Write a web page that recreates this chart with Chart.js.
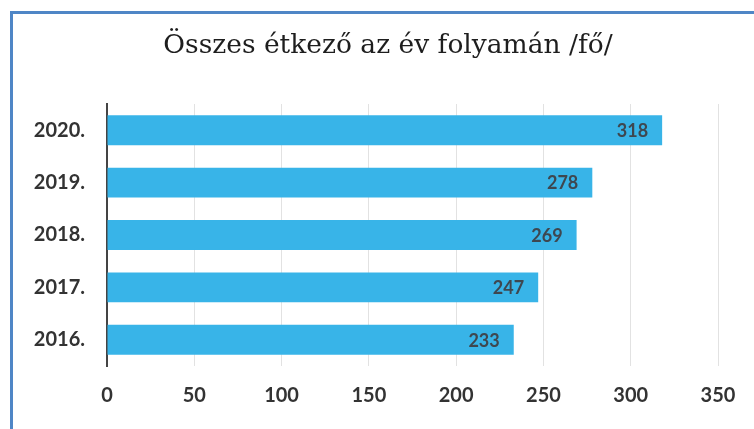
<!DOCTYPE html>
<html>
<head>
  <meta charset="UTF-8">
  <title>Összes étkező</title>
  <script src="https://cdn.jsdelivr.net/npm/chart.js@4"></script>
  <style>
    body { margin: 0; background: #fff; }
    #wrap { position: relative; width: 754px; height: 429px; }
    #frame { position: absolute; left: 10px; top: 11px; right: 0; bottom: 0;
             border-top: 3px solid #4f86c6; border-left: 3px solid #4f86c6; pointer-events: none; }
  </style>
  <script>
    // adatok
    var years = ["2020.", "2019.", "2018.", "2017.", "2016."];
    var eaters = [318, 278, 269, 247, 233];
    var xTicks = [0, 50, 100, 150, 200, 250, 300, 350];
    var chartTitle = "Összes étkező az év folyamán /fő/";

    // számok a sávok végén + cím (a cím nem a plot fölé középre kerül, hanem kicsit jobbra)
    var barLabels = {
      id: "barLabels",
      afterDatasetsDraw: function(chart) {
        var ctx = chart.ctx;
        ctx.save();
        ctx.font = "bold 18px Lato";
        ctx.fillStyle = "#3e4750";
        ctx.textAlign = "right";
        ctx.textBaseline = "middle";
        chart.getDatasetMeta(0).data.forEach(function(bar, i) {
          ctx.fillText(eaters[i], bar.x - 14, bar.y + 1);
        });
        ctx.font = "26.5px 'DejaVu Serif'";
        ctx.fillStyle = "#1e1e1e";
        ctx.textAlign = "center";
        ctx.fillText(chartTitle, 388, 46);
        ctx.restore();
      }
    };

    function init() {
      new Chart(document.getElementById("myChart"), {
        type: "bar",
        data: {
          labels: years,
          datasets: [{
            data: eaters,
            backgroundColor: "#38b4e8",
            categoryPercentage: 1,
            barPercentage: 0.57
          }]
        },
        options: {
          indexAxis: "y",
          responsive: false,
          animation: false,
          layout: { padding: { left: 0, right: 36, top: 104, bottom: 3 } },
          plugins: {
            legend: { display: false },
            tooltip: { enabled: false },
            title: { display: false }
          },
          scales: {
            x: {
              min: 0,
              max: 350,
              afterBuildTicks: function(s) { s.ticks = xTicks.map(function(v) { return { value: v }; }); },
              grid: { color: "#e2e2e2", drawTicks: false },
              border: { display: false },
              ticks: { padding: 18, color: "#333", font: { family: "Lato", size: 20, weight: "bold" } }
            },
            y: {
              afterFit: function(s) { s.width = 107; },
              grid: { display: false, drawTicks: false },
              border: { color: "#444", width: 2 },
              ticks: { padding: 22, color: "#333", font: { family: "Lato", size: 20, weight: "bold" } }
            }
          }
        },
        plugins: [barLabels]
      });
    }
  </script>
</head>
<body onload="init()">
  <div id="wrap">
    <canvas id="myChart" width="754" height="429"></canvas>
    <div id="frame"></div>
  </div>
</body>
</html>
